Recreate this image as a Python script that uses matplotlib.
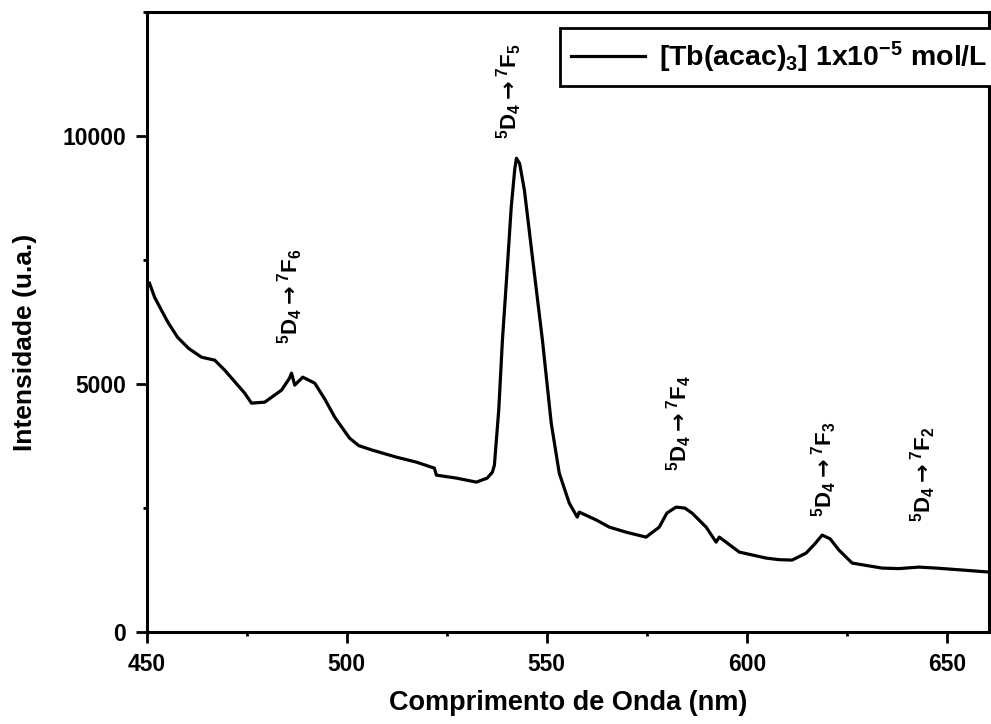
import matplotlib
matplotlib.use("Agg")
import matplotlib.pyplot as plt
from matplotlib.ticker import MultipleLocator

plt.rcParams["font.family"] = ["Liberation Sans", "DejaVu Sans"]
plt.rcParams["mathtext.fontset"] = "custom"
plt.rcParams["mathtext.rm"] = "Liberation Sans:bold"
plt.rcParams["mathtext.bf"] = "Liberation Sans:bold"
plt.rcParams["mathtext.sf"] = "DejaVu Sans:bold"
plt.rcParams["mathtext.default"] = "bf"

# --- Emission spectrum of [Tb(acac)3] ---
wavelength = [450.7, 452.0, 453.7, 455.3, 457.7, 460.5, 463.7, 467.0, 469.5, 474.5,
              476.2, 479.5, 483.7, 485.7, 486.2, 487.0, 489.0, 492.0, 494.5, 497.0,
              500.7, 503.0, 506.4, 512.4, 517.4, 521.9, 522.4, 527.4, 532.4, 535.1,
              536.4, 536.9, 538.0, 538.9, 540.0, 541.1, 542.0, 542.4, 543.2, 544.4,
              546.4, 548.9, 551.1, 553.1, 555.6, 557.6, 558.1, 562.4, 565.6, 570.0,
              574.8, 578.1, 580.0, 582.3, 584.5, 586.3, 589.8, 592.3, 593.1, 598.1,
              604.8, 608.0, 611.3, 614.8, 617.0, 618.8, 620.8, 623.0, 626.3, 633.8,
              638.0, 643.0, 647.3, 654.0, 660.5]
intensity = [7036, 6750, 6490, 6250, 5947, 5720, 5544, 5484, 5282, 4818,
             4617, 4637, 4879, 5121, 5221, 4980, 5141, 5020, 4700, 4334,
             3911, 3760, 3669, 3528, 3427, 3306, 3165, 3105, 3024, 3105,
             3226, 3367, 4500, 5887, 7200, 8568, 9350, 9556, 9450, 8911,
             7560, 5887, 4213, 3205, 2601, 2318, 2419, 2258, 2117, 2010,
             1915, 2117, 2400, 2520, 2500, 2399, 2117, 1814, 1915, 1613,
             1492, 1460, 1452, 1593, 1780, 1956, 1880, 1653, 1391, 1290,
             1280, 1310, 1290, 1250, 1210]

# --- Transition labels: wavelength, intensity at text base, final J ---
trans_x = [486.0, 540.6, 583.0, 619.3, 644.0]
trans_y = [5800, 9950, 3250, 2320, 2220]
trans_j = [6, 5, 4, 3, 2]

legend_label = r"[Tb(acac)$_{3}$] 1x10$^{-5}$ mol/L"

fig = plt.figure(figsize=(9.91, 7.24), dpi=100)
ax = fig.add_axes([0.148, 0.127, 0.85, 0.856])

ax.plot(wavelength, intensity, color="black", lw=2.3, label=legend_label)

for x, y, j in zip(trans_x, trans_y, trans_j):
    ax.text(x, y, r"$^{5}\mathrm{D}_{4}\mathsf{\rightarrow}^{7}\mathrm{F}_{%d}$" % j,
            rotation=90, ha="center", va="bottom", fontsize=16, fontweight="bold")

ax.set_xlim(450, 660.5)
ax.set_ylim(0, 12500)
ax.xaxis.set_major_locator(MultipleLocator(50))
ax.xaxis.set_minor_locator(MultipleLocator(25))
ax.yaxis.set_major_locator(MultipleLocator(5000))
ax.yaxis.set_minor_locator(MultipleLocator(2500))

for s in ax.spines.values():
    s.set_linewidth(2.2)
ax.tick_params(which="major", direction="out", length=8, width=2, labelsize=16.5, pad=7)
ax.tick_params(which="minor", direction="out", length=3, width=2)
for lab in ax.get_xticklabels() + ax.get_yticklabels():
    lab.set_fontweight("bold")

ax.set_xlabel("Comprimento de Onda (nm)", fontsize=19.5, fontweight="bold", labelpad=10)
ax.set_ylabel("Intensidade (u.a.)", fontsize=19, fontweight="bold")
ax.yaxis.set_label_coords(-0.130, 0.468)

leg = ax.legend(loc="upper right", bbox_to_anchor=(1.012, 0.974), borderaxespad=0,
                fancybox=False, framealpha=1, edgecolor="black", handlelength=2.6,
                handletextpad=0.5, prop={"size": 20.5, "weight": "bold"})
leg.get_frame().set_linewidth(2)

fig.savefig("out.png", dpi=100)
